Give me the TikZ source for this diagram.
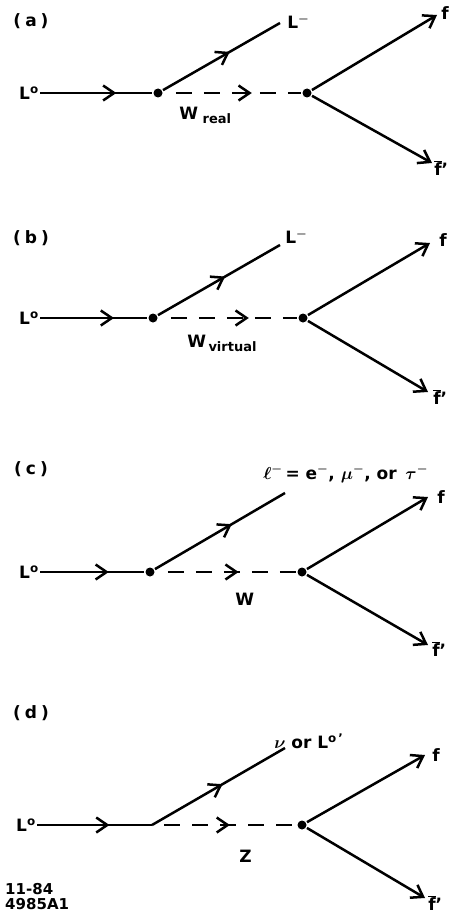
\documentclass[tikz,border=0pt]{standalone}
\usepackage{fontspec}
\setmainfont{DejaVu Sans}
\usetikzlibrary{arrows.meta,decorations.markings}

\begin{document}
\begin{tikzpicture}[x=1pt,y=-1pt,line width=2.5pt,
  font=\fontsize{17}{19}\selectfont\bfseries\boldmath,
  vtx/.style={circle,fill,inner sep=0pt,minimum size=9pt},
  lbl/.style={inner sep=0pt},
  sub/.style={font=\fontsize{13}{14}\selectfont\bfseries},
  fline/.style={-{Straight Barb[length=11pt,width=15pt]}},
  midarrow/.style={postaction={decorate,decoration={markings,
      mark=at position #1 with {\arrow{Straight Barb[length=11pt,width=15pt]}}}}},
  wline/.style={dash pattern=on 16pt off 12pt,dash phase=16pt}]
  \useasboundingbox (0,0) rectangle (454,915);

  % (a) real W
  \node[lbl] (pa) at (31,21) {(\hspace{4pt}a\hspace{4pt})};
  \node[lbl,anchor=east] (La) at (40,93) {L\textsuperscript{o}};
  \node[vtx] (a1) at (158,93) {};
  \node[vtx] (a2) at (307,93) {};
  \coordinate (au) at (280,23);
  \coordinate (af) at (437,15);
  \coordinate (afb) at (432,163);
  \draw[midarrow=0.68] (La) -- (a1);
  \draw[midarrow=0.57] (a1) -- (au);
  \draw[wline,midarrow=0.64] (a1) -- (a2);
  \draw[fline] (a2) -- (af);
  \draw[fline] (a2) -- (afb);
  \node[lbl,anchor=west] (aL) at (286,22) {L$^-$};
  \node[lbl,anchor=west] (aF) at (440,13) {f};
  \node[lbl,anchor=west] (aFb) at (433,168) {$\overline{\mbox{f}}$'};
  \node[lbl,anchor=base west] (aW) at (178,120) {W};
  \node[lbl,anchor=base west,sub] (aWs) at ([yshift=-4pt]aW.base east) {\,real};

  % (b) virtual W
  \node[lbl] (pb) at (31,238) {(\hspace{4pt}b\hspace{4pt})};
  \node[lbl,anchor=east] (Lb) at (40,318) {L\textsuperscript{o}};
  \node[vtx] (b1) at (153,318) {};
  \node[vtx] (b2) at (303,318) {};
  \coordinate (bu) at (280,245);
  \coordinate (bf) at (430,243);
  \coordinate (bfb) at (428,392);
  \draw[midarrow=0.69] (Lb) -- (b1);
  \draw[midarrow=0.55] (b1) -- (bu);
  \draw[wline,midarrow=0.65] (b1) -- (b2);
  \draw[fline] (b2) -- (bf);
  \draw[fline] (b2) -- (bfb);
  \node[lbl,anchor=west] (bL) at (284,237) {L$^-$};
  \node[lbl,anchor=west] (bF) at (438,240) {f};
  \node[lbl,anchor=west] (bFb) at (432,397) {$\overline{\mbox{f}}$'};
  \node[lbl,anchor=base west] (bW) at (186,347) {W};
  \node[lbl,anchor=base west,sub] (bWs) at ([yshift=-4pt]bW.base east) {virtual};

  % (c) charged lepton
  \node[lbl] (pc) at (31,469) {(\hspace{4pt}c\hspace{4pt})};
  \node[lbl,anchor=east] (Lc) at (40,572) {L\textsuperscript{o}};
  \node[vtx] (c1) at (150,572) {};
  \node[vtx] (c2) at (302,572) {};
  \coordinate (cu) at (285,493);
  \coordinate (cf) at (428,497);
  \coordinate (cfb) at (428,645);
  \draw[midarrow=0.66] (Lc) -- (c1);
  \draw[midarrow=0.59] (c1) -- (cu);
  \draw[wline,midarrow=0.59] (c1) -- (c2);
  \draw[fline] (c2) -- (cf);
  \draw[fline] (c2) -- (cfb);
  \node[lbl,anchor=west] (cL) at (262,474) {$\ell^-$\,= e$^-$, $\mu^-$, or\, $\tau^-$};
  \node[lbl,anchor=west] (cF) at (436,497) {f};
  \node[lbl,anchor=west] (cFb) at (431,649) {$\overline{\mbox{f}}$'};
  \node[lbl,anchor=base west] (cW) at (234,605) {W};

  % (d) Z
  \node[lbl] (pd) at (31,713) {(\hspace{4pt}d\hspace{4pt})};
  \node[lbl,anchor=east] (Ld) at (37,825) {L\textsuperscript{o}};
  \coordinate (d1) at (152,825);
  \node[vtx] (d2) at (302,825) {};
  \coordinate (du) at (285,748);
  \coordinate (df) at (425,755);
  \coordinate (dfb) at (425,898);
  \draw[midarrow=0.63] (Ld) -- (d1);
  \draw[midarrow=0.53] (d1) -- (du);
  \draw[wline,midarrow=0.54] (d1) -- (d2);
  \draw[fline] (d2) -- (df);
  \draw[fline] (d2) -- (dfb);
  \node[lbl,anchor=west] (dL) at (273,741) {$\nu$ or L\textsuperscript{o\,'}};
  \node[lbl,anchor=west] (dF) at (431,755) {f};
  \node[lbl,anchor=west] (dFb) at (427,903) {$\overline{\mbox{f}}$'};
  \node[lbl,anchor=base west] (dZ) at (238,862) {Z};

  \node[lbl,anchor=north west,align=left,font=\fontsize{15}{15}\selectfont\bfseries] (tag) at (4,882) {11-84\\4985A1};
\end{tikzpicture}
\end{document}
